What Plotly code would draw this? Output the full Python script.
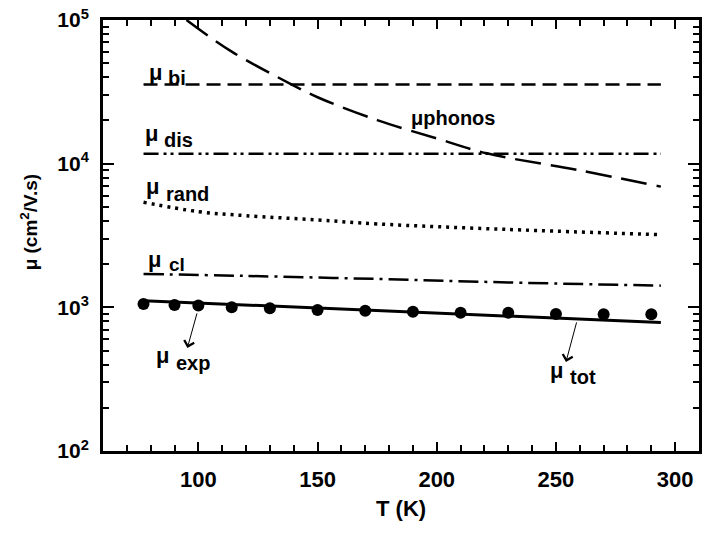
import numpy as np
import plotly.graph_objects as go

# Temperature (K) and mobility (cm^2/V.s) components
T_exp = [77, 90, 100, 114, 130, 150, 170, 190, 210, 230, 250, 270, 290]
mu_exp = [1056, 1040, 1028, 1002, 986, 959, 945, 932, 918, 918, 899, 896, 896]

T_tot = [77, 100, 150, 200, 250, 294]
mu_tot = [1113, 1073, 989, 911, 840, 783]

T_cl = [77, 120, 175, 230, 294]
mu_cl = [1708, 1654, 1576, 1490, 1416]

T_rand = [77, 100, 120, 150, 175, 230, 294]
mu_rand = [5387, 4634, 4345, 4057, 3806, 3483, 3205]

T_dis = [77, 294]
mu_dis = [11700, 11700]

T_bi = [77, 294]
mu_bi = [35600, 35600]

T_ph = [95, 114, 139, 150, 175, 200, 221, 259, 294]
mu_ph = [100000, 60200, 35700, 29000, 20100, 15000, 11800, 9040, 6920]

y_tickvals = [100, 1000, 10000, 100000]
y_ticktext = ["10<sup>2</sup>", "10<sup>3</sup>", "10<sup>4</sup>", "10<sup>5</sup>"]

FONT = "Liberation Sans, Arial, sans-serif"
BLACK = "black"

fig = go.Figure()

def line(x, y, dash, width, shape="linear"):
    fig.add_trace(go.Scatter(x=x, y=y, mode="lines",
                             line=dict(color=BLACK, width=width, dash=dash, shape=shape),
                             hoverinfo="skip"))

line(T_bi, mu_bi, "14px,7px", 2.5)
line(T_ph, mu_ph, "26px,10px", 2.5, "spline")
line(T_dis, mu_dis, "15px,5px,3px,4px,3px,5px", 2.5)
line(T_rand, mu_rand, "3px,5px", 3.5, "spline")
line(T_cl, mu_cl, "20px,6px,3px,6px", 2.5, "spline")
line(T_tot, mu_tot, "solid", 3)

fig.add_trace(go.Scatter(x=T_exp, y=mu_exp, mode="markers",
                         marker=dict(color=BLACK, size=12), hoverinfo="skip"))

# plot box in page pixels, used to place the text labels
PL, PR, PT, PB = 103, 702, 20, 451

def paper(px, py):
    return (px - PL) / (PR - PL), (PB - py) / (PB - PT)

annotations = []

def label(mu_xy, sub, sub_xy, mu_size=22, sub_size=20):
    x, y = paper(*mu_xy)
    annotations.append(dict(xref="paper", yref="paper", x=x, y=y, text="μ",
                            showarrow=False, xanchor="center", yanchor="middle",
                            font=dict(family=FONT, size=mu_size, color=BLACK, weight="bold")))
    x, y = paper(*sub_xy)
    annotations.append(dict(xref="paper", yref="paper", x=x, y=y, text=sub,
                            showarrow=False, xanchor="left", yanchor="middle",
                            font=dict(family=FONT, size=sub_size, color=BLACK, weight="bold")))

label((155.5, 72), "bi", (166, 78))
label((151.5, 133.5), "dis", (162, 140))
label((152.5, 186.5), "rand", (164, 193.5))
label((155, 259.5), "cl", (167, 264), sub_size=19)
label((163, 355.5), "exp", (174, 363))
label((558.5, 370.5), "tot", (570, 377))

x, y = paper(455, 118)
annotations.append(dict(xref="paper", yref="paper", x=x, y=y, text="μphonos",
                        showarrow=False, xanchor="center", yanchor="middle",
                        font=dict(family=FONT, size=20, color=BLACK, weight="bold")))

# arrows from the curves down to the exp / tot labels
for hx, hy, ax, ay in [(95.4, 522, 10, -36), (254.2, 417, 11, -41)]:
    annotations.append(dict(xref="x", yref="y", x=hx, y=np.log10(hy), text="",
                            showarrow=True, ax=ax, ay=ay, arrowhead=4, arrowsize=2,
                            arrowwidth=1, arrowcolor=BLACK, standoff=0))

# axis titles
x, y = paper(402, 508)
annotations.append(dict(xref="paper", yref="paper", x=x, y=y, text="T (K)",
                        showarrow=False, xanchor="center", yanchor="middle",
                        font=dict(family=FONT, size=22, color=BLACK, weight="bold")))
x, y = paper(29, 222)
annotations.append(dict(xref="paper", yref="paper", x=x, y=y,
                        text="μ (cm<sup>2</sup>/V.s)", textangle=-90,
                        showarrow=False, xanchor="center", yanchor="middle",
                        font=dict(family=FONT, size=19, color=BLACK, weight="bold")))

fig.update_layout(
    width=704, height=534,
    margin=dict(l=PL, r=704 - PR, t=PT, b=534 - PB),
    plot_bgcolor="white", paper_bgcolor="white",
    showlegend=False,
    font=dict(family=FONT, color=BLACK, weight="bold"),
    annotations=annotations,
)

fig.update_xaxes(
    range=[60, 310], tick0=0, dtick=50,
    ticks="inside", ticklen=9, tickwidth=1.5, tickcolor=BLACK,
    showline=True, linewidth=3, linecolor=BLACK, mirror="allticks",
    showgrid=False, zeroline=False,
    ticklabelstandoff=7,
    tickfont=dict(family=FONT, size=22, color=BLACK, weight="bold"),
    minor=dict(dtick=10, ticks="inside", ticklen=6, tickwidth=1.5,
               tickcolor=BLACK, showgrid=False),
)

fig.update_yaxes(
    type="log", range=[2, 5],
    tickvals=y_tickvals, ticktext=y_ticktext,
    ticks="inside", ticklen=11, tickwidth=1.5, tickcolor=BLACK,
    showline=True, linewidth=3, linecolor=BLACK, mirror="allticks",
    showgrid=False, zeroline=False,
    ticklabelstandoff=7,
    tickfont=dict(family=FONT, size=21, color=BLACK, weight="bold"),
    minor=dict(dtick="D1", ticks="inside", ticklen=6, tickwidth=1.5,
               tickcolor=BLACK, showgrid=False),
)

fig.write_html("out.html")
